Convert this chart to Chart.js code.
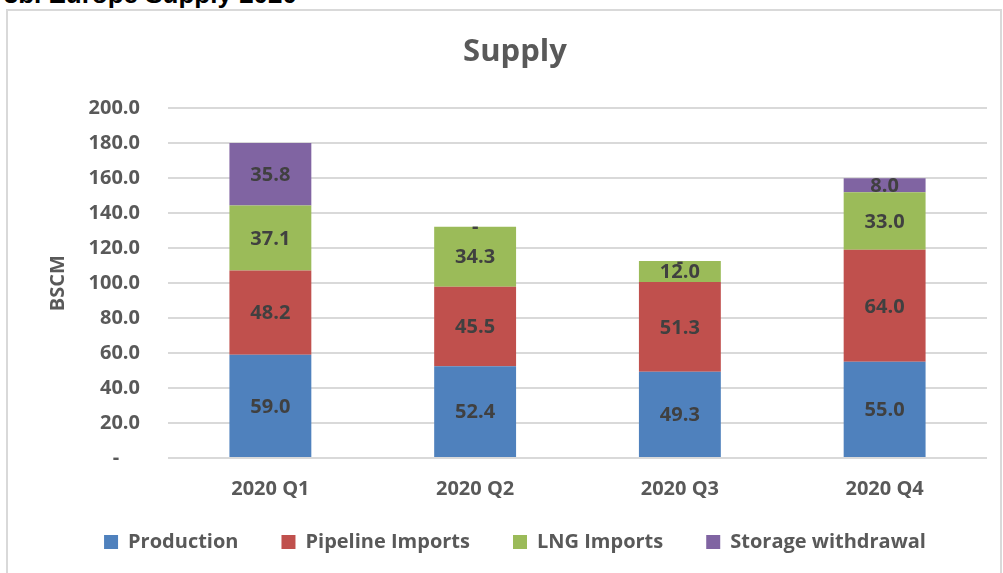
<!DOCTYPE html>
<html>
<head>
<meta charset="utf-8">
<script src="https://cdn.jsdelivr.net/npm/chart.js@4.4.1/dist/chart.umd.min.js"></script>
<style>
  html, body { margin: 0; padding: 0; background: #ffffff; overflow: hidden; }
  #wrap { position: relative; width: 1003px; height: 573px; }
  #frame { position: absolute; left: 6px; top: 9px; width: 996px; height: 600px; border: 2px solid #d9d9d9; box-sizing: border-box; }
  #head { position: absolute; right: 706px; top: -19px; font: bold 26px "Liberation Sans", Arial, sans-serif; line-height: 26px; color: #000; white-space: nowrap; }
  canvas { position: absolute; left: 0; top: 0; }
</style>
</head>
<body>
<div id="wrap">
  <div id="frame"></div>
  <div id="head">Fig 3b. Europe Supply 2020</div>
  <canvas id="c" width="1003" height="573"></canvas>
</div>
<script>
const categories = ['2020 Q1', '2020 Q2', '2020 Q3', '2020 Q4'];
const production = [59.0, 52.4, 49.3, 55.0];
const pipelineImports = [48.2, 45.5, 51.3, 64.0];
const lngImports = [37.1, 34.3, 12.0, 33.0];
const storageWithdrawal = [35.8, 0, 0, 8.0];
const yTicks = [0, 20, 40, 60, 80, 100, 120, 140, 160, 180, 200];

const FONT = '"Open Sans", "DejaVu Sans", sans-serif';

const barLabels = {
  id: 'barLabels',
  afterDatasetsDraw(chart) {
    const ctx = chart.ctx;
    ctx.save();
    ctx.font = 'bold 20px ' + FONT;
    ctx.fillStyle = '#404040';
    ctx.textAlign = 'center';
    ctx.textBaseline = 'middle';
    chart.data.datasets.forEach((ds, di) => {
      const meta = chart.getDatasetMeta(di);
      meta.data.forEach((el, i) => {
        const v = ds.data[i];
        const p = el.getProps(['x', 'y', 'base'], true);
        const txt = v === 0 ? '-' : v.toFixed(1);
        ctx.fillText(txt, p.x, (p.y + p.base) / 2 + 1);
      });
    });
    ctx.restore();
  }
};

// move the legend row up a little (it sits closer to the axis labels in the reference)
const legendShift = {
  id: 'legendShift',
  afterLayout(chart) {
    const lg = chart.legend;
    if (lg) { lg.top -= 11; lg.bottom -= 11; }
  }
};

new Chart(document.getElementById('c'), {
  type: 'bar',
  data: {
    labels: categories,
    datasets: [
      { label: 'Production', data: production, backgroundColor: '#4f81bd' },
      { label: 'Pipeline Imports', data: pipelineImports, backgroundColor: '#c0504d' },
      { label: 'LNG Imports', data: lngImports, backgroundColor: '#9bbb59' },
      { label: 'Storage withdrawal', data: storageWithdrawal, backgroundColor: '#8064a2' }
    ]
  },
  options: {
    responsive: false,
    animation: false,
    events: [],
    layout: { padding: { left: 43, right: 16, top: 0, bottom: 0 } },
    datasets: { bar: { categoryPercentage: 1, barPercentage: 0.4, borderWidth: 0 } },
    plugins: {
      title: {
        display: true,
        text: 'Supply',
        color: '#595959',
        font: { family: FONT, size: 31, weight: 'bold' },
        padding: { top: 34, bottom: 37 }
      },
      legend: {
        position: 'bottom',
        labels: {
          boxWidth: 14,
          boxHeight: 14,
          padding: 43,
          color: '#595959',
          font: { family: FONT, size: 20, weight: 'bold' }
        }
      },
      tooltip: { enabled: false }
    },
    scales: {
      x: {
        stacked: true,
        grid: { display: false, drawTicks: false },
        border: { display: false },
        ticks: { color: '#595959', padding: 19, font: { family: FONT, size: 20, weight: 'bold' } },
        afterFit(s) { s.height = 42; }
      },
      y: {
        stacked: true,
        min: 0,
        max: 200,
        afterBuildTicks(s) { s.ticks = yTicks.map(v => ({ value: v })); },
        grid: { color: '#d9d9d9', lineWidth: 2, drawTicks: false },
        border: { display: false },
        ticks: {
          color: '#595959',
          padding: 28,
          font: { family: FONT, size: 20, weight: 'bold' },
          callback: v => v === 0 ? '-    ' : v.toFixed(1)
        },
        title: {
          display: true,
          text: 'BSCM',
          color: '#595959',
          font: { family: FONT, size: 20, weight: 'bold' },
          padding: { top: 3, bottom: 0 }
        },
        afterFit(s) { s.width = 125; }
      }
    }
  },
  plugins: [barLabels, legendShift]
});
</script>
</body>
</html>
